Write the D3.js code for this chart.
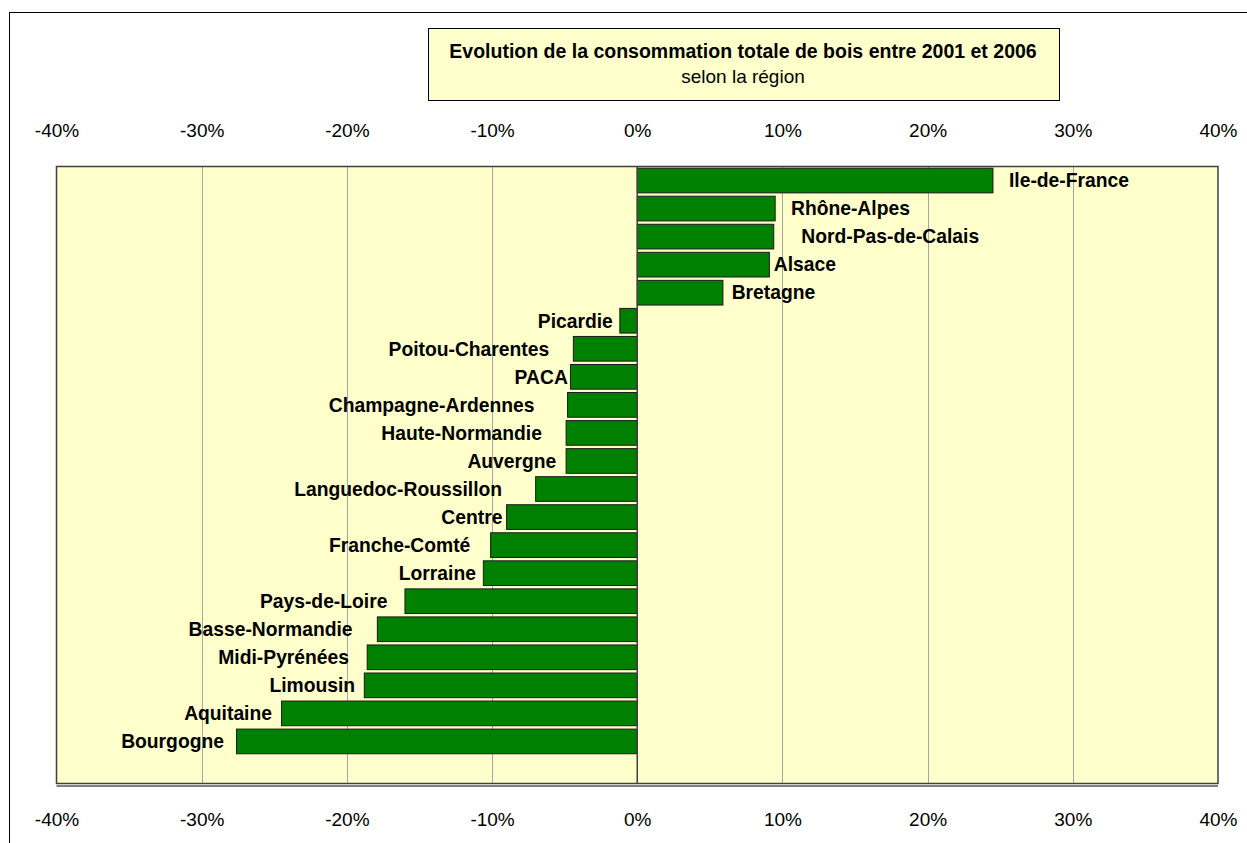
<!DOCTYPE html>
<html>
<head>
<meta charset="utf-8">
<script src="https://cdn.jsdelivr.net/npm/d3@7"></script>
<style>
  html, body { margin: 0; padding: 0; background: #ffffff; }
  svg { display: block; font-family: "Liberation Sans", Arial, sans-serif; }
</style>
</head>
<body>
<svg id="chart" width="1247" height="843"></svg>
<script>
// ---- Data ----
const titleLine1 = "Evolution de la consommation totale de bois entre 2001 et 2006";
const titleLine2 = "selon la région";
const categories = ["Ile-de-France","Rhône-Alpes","Nord-Pas-de-Calais","Alsace","Bretagne","Picardie",
  "Poitou-Charentes","PACA","Champagne-Ardennes","Haute-Normandie","Auvergne","Languedoc-Roussillon",
  "Centre","Franche-Comté","Lorraine","Pays-de-Loire","Basse-Normandie","Midi-Pyrénées","Limousin",
  "Aquitaine","Bourgogne"];
const values = [0.245, 0.095, 0.094, 0.091, 0.059, -0.012,
  -0.044, -0.046, -0.048, -0.049, -0.049, -0.070,
  -0.090, -0.101, -0.106, -0.160, -0.179, -0.186, -0.188,
  -0.245, -0.276];
const tickValues = [-0.4, -0.3, -0.2, -0.1, 0, 0.1, 0.2, 0.3, 0.4];
const tickLabels = ["-40%", "-30%", "-20%", "-10%", "0%", "10%", "20%", "30%", "40%"];

// ---- Layout ----
const svg = d3.select("#chart");
const plot = { left: 56.5, top: 166.5, right: 1218, bottom: 783.5 };
const plotH = plot.bottom - plot.top;
const slots = categories.length + 1; // one empty slot left at the bottom

const x = d3.scaleLinear().domain([-0.4, 0.4]).range([plot.left, plot.right]);
const y = d3.scaleBand().domain(categories)
  .range([plot.top, plot.top + plotH * categories.length / slots])
  .paddingInner(0.12).paddingOuter(0.06);

// outer chart border
svg.append("rect").attr("x", 9.5).attr("y", 12.5).attr("width", 1260).attr("height", 860)
  .attr("fill", "none").attr("stroke", "#000").attr("stroke-width", 1);

// title box
svg.append("rect").attr("x", 428.5).attr("y", 28.5).attr("width", 631).attr("height", 72)
  .attr("fill", "#FFFFCC").attr("stroke", "#000").attr("stroke-width", 1);
svg.append("text").attr("x", 743).attr("y", 58).attr("text-anchor", "middle")
  .attr("font-size", 19.5).attr("font-weight", "bold").attr("fill", "#000").text(titleLine1);
svg.append("text").attr("x", 743).attr("y", 82.5).attr("text-anchor", "middle")
  .attr("font-size", 19).attr("fill", "#000").text(titleLine2);

// plot area
svg.append("rect").attr("x", plot.left).attr("y", plot.top)
  .attr("width", plot.right - plot.left).attr("height", plotH)
  .attr("fill", "#FFFFCC");

// gridlines
svg.append("g").selectAll("line").data(tickValues.filter(d => d !== 0 && Math.abs(d) < 0.4)).join("line")
  .attr("x1", d => Math.round(x(d)) + 0.5).attr("x2", d => Math.round(x(d)) + 0.5)
  .attr("y1", plot.top).attr("y2", plot.bottom)
  .attr("stroke", "#A6A6A6").attr("stroke-width", 1);

// bars
svg.append("g").selectAll("rect").data(categories).join("rect")
  .attr("x", (d, i) => x(Math.min(0, values[i])))
  .attr("y", d => y(d))
  .attr("width", (d, i) => Math.abs(x(values[i]) - x(0)))
  .attr("height", y.bandwidth())
  .attr("fill", "#008000").attr("stroke", "#1a1a1a").attr("stroke-width", 1);

// zero (category) axis line
svg.append("line").attr("x1", x(0)).attr("x2", x(0)).attr("y1", plot.top).attr("y2", plot.bottom)
  .attr("stroke", "#404040").attr("stroke-width", 1.5);

// plot border
svg.append("rect").attr("x", plot.left).attr("y", plot.top)
  .attr("width", plot.right - plot.left).attr("height", plotH)
  .attr("fill", "none").attr("stroke", "#404040").attr("stroke-width", 1.5);
svg.append("line").attr("x1", plot.left).attr("x2", plot.right)
  .attr("y1", plot.bottom + 2.5).attr("y2", plot.bottom + 2.5)
  .attr("stroke", "#000").attr("stroke-width", 1);

// bar labels (category names)
const labels = svg.append("g").attr("font-size", 19.3).attr("font-weight", "bold").attr("fill", "#000")
  .selectAll("text").data(categories).join("text")
  .attr("y", d => y(d) + y.bandwidth() / 2)
  .attr("dy", "0.35em")
  .attr("text-anchor", (d, i) => values[i] >= 0 ? "start" : "end")
  .text(d => d);
labels.each(function(d, i) {
  const w = this.getComputedTextLength();
  const gap = Math.max(2, 0.2 * w - 8);
  const v = values[i];
  d3.select(this).attr("x", v >= 0 ? x(v) + gap : x(v) - gap);
});

// axes (top and bottom)
const fmt = d => tickLabels[tickValues.indexOf(d)];
const topAxis = d3.axisTop(x).tickValues(tickValues).tickFormat(fmt).tickSize(0).tickPadding(0);
const botAxis = d3.axisBottom(x).tickValues(tickValues).tickFormat(fmt).tickSize(0).tickPadding(0);
const gTop = svg.append("g").attr("transform", "translate(0,137)").call(topAxis);
const gBot = svg.append("g").attr("transform", "translate(0,812)").call(botAxis);
[gTop, gBot].forEach(g => {
  g.select(".domain").remove();
  g.selectAll("text").attr("font-size", 19).attr("fill", "#000")
    .attr("font-family", "Liberation Sans, Arial, sans-serif");
});
gTop.selectAll("text").attr("dy", 0);
gBot.selectAll("text").attr("dy", "0.71em");
</script>
</body>
</html>
